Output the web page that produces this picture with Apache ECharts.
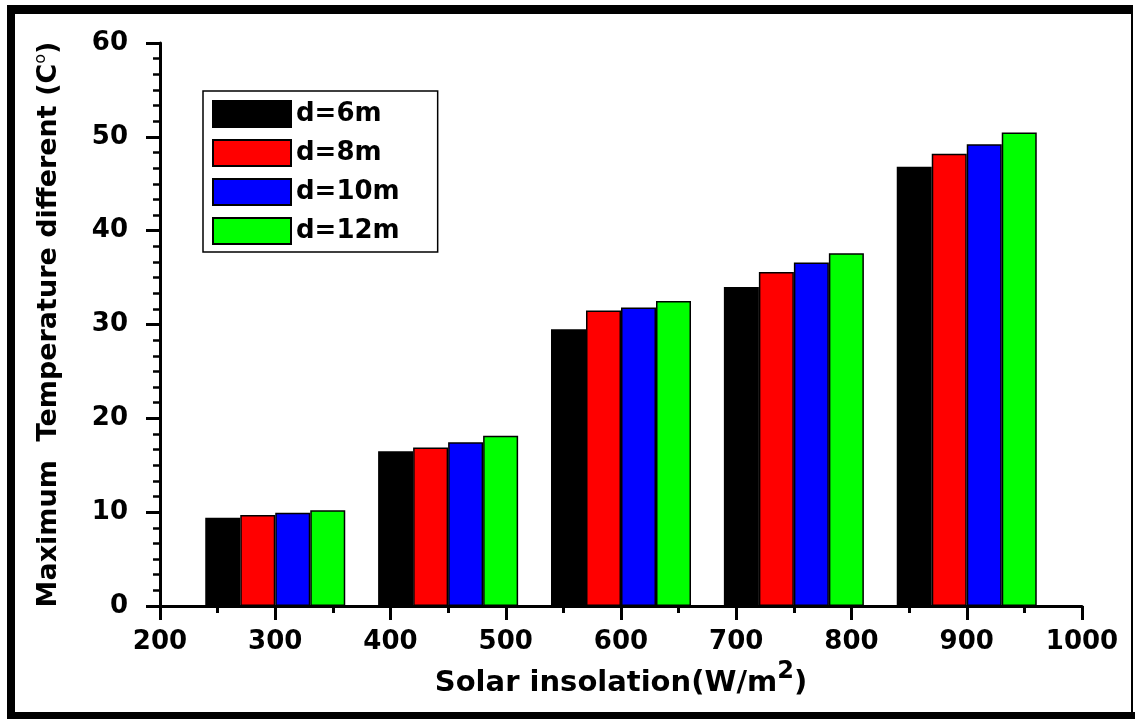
<!DOCTYPE html>
<html>
<head>
<meta charset="utf-8">
<script src="https://cdn.jsdelivr.net/npm/echarts@6/dist/echarts.min.js"></script>
<style>
  html, body { margin: 0; padding: 0; background: #fff; }
  #chart { width: 1135px; height: 719px; }
</style>
</head>
<body>
<div id="chart"></div>
<script>
// Solar insolation levels (W/m2) at which each group of bars is drawn
const insolation = [300, 450, 600, 750, 900];

// Maximum temperature difference (°C) for each depth
const d6 = [9.4, 16.5, 29.5, 34.0, 46.8];
const d8 = [9.7, 16.9, 31.5, 35.6, 48.2];
const d10 = [9.95, 17.45, 31.8, 36.6, 49.2];
const d12 = [10.2, 18.15, 32.5, 37.6, 50.45];

const seriesNames = ['d=6m', 'd=8m', 'd=10m', 'd=12m'];
const seriesColors = ['#000000', '#ff0000', '#0000ff', '#00ff00'];
const seriesValues = [d6, d8, d10, d12];

const FONT = 'DejaVu Sans';

const chart = echarts.init(document.getElementById('chart'), null, { renderer: 'canvas' });

const series = seriesNames.map((name, i) => ({
  name: name,
  type: 'bar',
  barWidth: 35,
  barGap: '0%',
  data: insolation.map((x, j) => [x, seriesValues[i][j]]),
  itemStyle: { color: seriesColors[i], borderColor: '#000', borderWidth: 1.5 },
  emphasis: { disabled: true }
}));

chart.setOption({
  animation: false,
  backgroundColor: '#fff',
  grid: { left: 160, right: 53, top: 43, bottom: 113, containLabel: false },
  legend: {
    orient: 'vertical',
    left: 203,
    top: 91,
    padding: [9, 38, 7, 9],
    itemGap: 11,
    itemWidth: 78,
    itemHeight: 26,
    itemTextGap: 19,
    icon: 'rect',
    borderColor: '#000',
    borderWidth: 1.5,
    selectedMode: false,
    textStyle: { fontFamily: FONT, fontWeight: 'bold', fontSize: 26, color: '#000' },
    data: seriesNames
  },
  xAxis: {
    type: 'value',
    min: 200,
    max: 1000,
    interval: 100,
    name: 'Solar insolation(W/m{sup|2})',
    nameLocation: 'middle',
    nameGap: 56,
    nameTextStyle: {
      fontFamily: FONT, fontWeight: 'bold', fontSize: 29, color: '#000', lineHeight: 42,
      rich: { sup: { fontFamily: FONT, fontWeight: 'bold', fontSize: 24, lineHeight: 24, padding: [0, 0, 22, 0], color: '#000' } }
    },
    axisLine: { show: true, onZero: false, lineStyle: { color: '#000', width: 3 } },
    axisTick: { show: true, inside: false, length: 14, lineStyle: { color: '#000', width: 3 } },
    minorTick: { show: true, splitNumber: 2, length: 7, lineStyle: { color: '#000', width: 3 } },
    splitLine: { show: false },
    axisLabel: {
      margin: 23, fontFamily: FONT, fontWeight: 'bold', fontSize: 26, color: '#000',
      formatter: (v) => String(v)
    }
  },
  yAxis: {
    type: 'value',
    min: 0,
    max: 60,
    interval: 10,
    name: 'Maximum  Temperature different (C{sup|o})',
    nameLocation: 'middle',
    nameRotate: 90,
    nameGap: 93,
    nameTextStyle: {
      fontFamily: FONT, fontWeight: 'bold', fontSize: 27, color: '#000', lineHeight: 36,
      rich: { sup: { fontFamily: FONT, fontWeight: 'normal', fontSize: 16, lineHeight: 16, padding: [0, 0, 16, 0], color: '#000' } }
    },
    axisLine: { show: true, onZero: false, lineStyle: { color: '#000', width: 3 } },
    axisTick: { show: true, inside: false, length: 14, lineStyle: { color: '#000', width: 3 } },
    minorTick: { show: true, splitNumber: 6, length: 7, lineStyle: { color: '#000', width: 2.5 } },
    splitLine: { show: false },
    axisLabel: {
      margin: 32, fontFamily: FONT, fontWeight: 'bold', fontSize: 26, color: '#000',
      formatter: (v) => String(v)
    }
  },
  graphic: [
    // picture frame
    { type: 'rect', left: 7, top: 5, shape: { width: 8, height: 714 }, style: { fill: '#000' }, silent: true },
    { type: 'rect', left: 7, top: 5, shape: { width: 1126, height: 9 }, style: { fill: '#000' }, silent: true },
    { type: 'rect', left: 7, top: 712, shape: { width: 1128, height: 7 }, style: { fill: '#000' }, silent: true },
    { type: 'rect', left: 1131, top: 5, shape: { width: 2, height: 714 }, style: { fill: '#000' }, silent: true }
  ],
  series: series
});
</script>
</body>
</html>
